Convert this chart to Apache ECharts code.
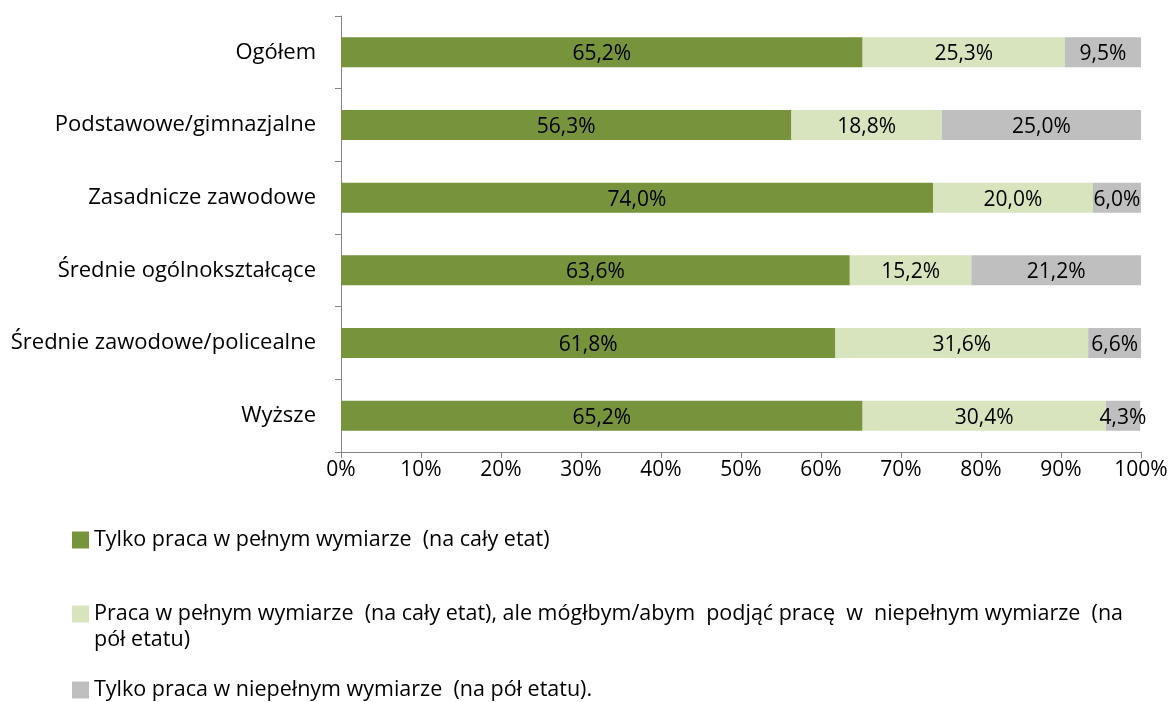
<!DOCTYPE html>
<html>
<head>
<meta charset="UTF-8">
<title></title>
<script type="text/javascript" src="https://cdn.jsdelivr.net/npm/echarts@6/dist/echarts.min.js"></script>
</head>
<body style="margin:0">
<div id="main" style="height: 702px; width: 1174px;"></div>
<script type="text/javascript">
    var categories = ['Ogółem', 'Podstawowe/gimnazjalne', 'Zasadnicze zawodowe', 'Średnie ogólnokształcące', 'Średnie zawodowe/policealne', 'Wyższe'];
    var seriesNames = [
        'Tylko praca w pełnym wymiarze  (na cały etat)',
        'Praca w pełnym wymiarze  (na cały etat), ale mógłbym/abym  podjąć pracę  w  niepełnym wymiarze  (na',
        'Tylko praca w niepełnym wymiarze  (na pół etatu).'
    ];
    var nameTail = 'pół etatu)';
    var fullTime = [65.2, 56.3, 74.0, 63.6, 61.8, 65.2];
    var fullButPart = [25.3, 18.8, 20.0, 15.2, 31.6, 30.4];
    var partTime = [9.5, 25.0, 6.0, 21.2, 6.6, 4.3];
    var xTicks = [0, 10, 20, 30, 40, 50, 60, 70, 80, 90, 100];

    var colors = ['#77933C', '#D7E4BD', '#BFBFBF'];
    var font = 'Open Sans';

    var myChart = echarts.init(document.getElementById('main'));

    function mkSeries(i, data) {
        return {
            name: seriesNames[i],
            type: 'bar',
            stack: 'all',
            barWidth: 30,
            itemStyle: { color: colors[i] },
            label: {
                show: true,
                position: 'inside',
                offset: [0, 2],
                color: '#000',
                fontFamily: font,
                fontSize: 21,
                formatter: function (p) { return p.value.toFixed(1).replace('.', ',') + '%'; }
            },
            data: data
        };
    }

    function mkLegend(i, top) {
        return {
            data: [seriesNames[i]],
            left: 72,
            top: top,
            padding: 0,
            icon: 'rect',
            itemWidth: 17,
            itemHeight: 17,
            textStyle: { fontFamily: font, fontSize: 21.5, color: '#000' }
        };
    }

    var option = {
        animation: false,
        color: colors,
        grid: { left: 341, right: 33, top: 16, bottom: 250 },
        legend: [mkLegend(0, 529), mkLegend(1, 603), mkLegend(2, 679)],
        graphic: [{
            type: 'text', left: 94, top: 629,
            style: { text: nameTail, fontFamily: font, fontSize: 21.5, fill: '#000' }
        }],
        xAxis: {
            type: 'value',
            min: 0,
            max: 100,
            interval: 10,
            splitLine: { show: false },
            axisLine: { show: true, lineStyle: { color: '#868686' } },
            axisTick: { show: true, length: 6, lineStyle: { color: '#868686' } },
            axisLabel: {
                color: '#000', fontFamily: font, fontSize: 21, margin: 8,
                formatter: function (v) { return xTicks.indexOf(v) >= 0 ? v + '%' : ''; }
            }
        },
        yAxis: {
            type: 'category',
            inverse: true,
            data: categories,
            axisLine: { show: true, lineStyle: { color: '#868686' } },
            axisTick: { show: true, length: 6, lineStyle: { color: '#868686' } },
            axisLabel: { color: '#000', fontFamily: font, fontSize: 22, margin: 25 }
        },
        series: [mkSeries(0, fullTime), mkSeries(1, fullButPart), mkSeries(2, partTime)]
    };

    myChart.setOption(option);
</script>
</body>
</html>
